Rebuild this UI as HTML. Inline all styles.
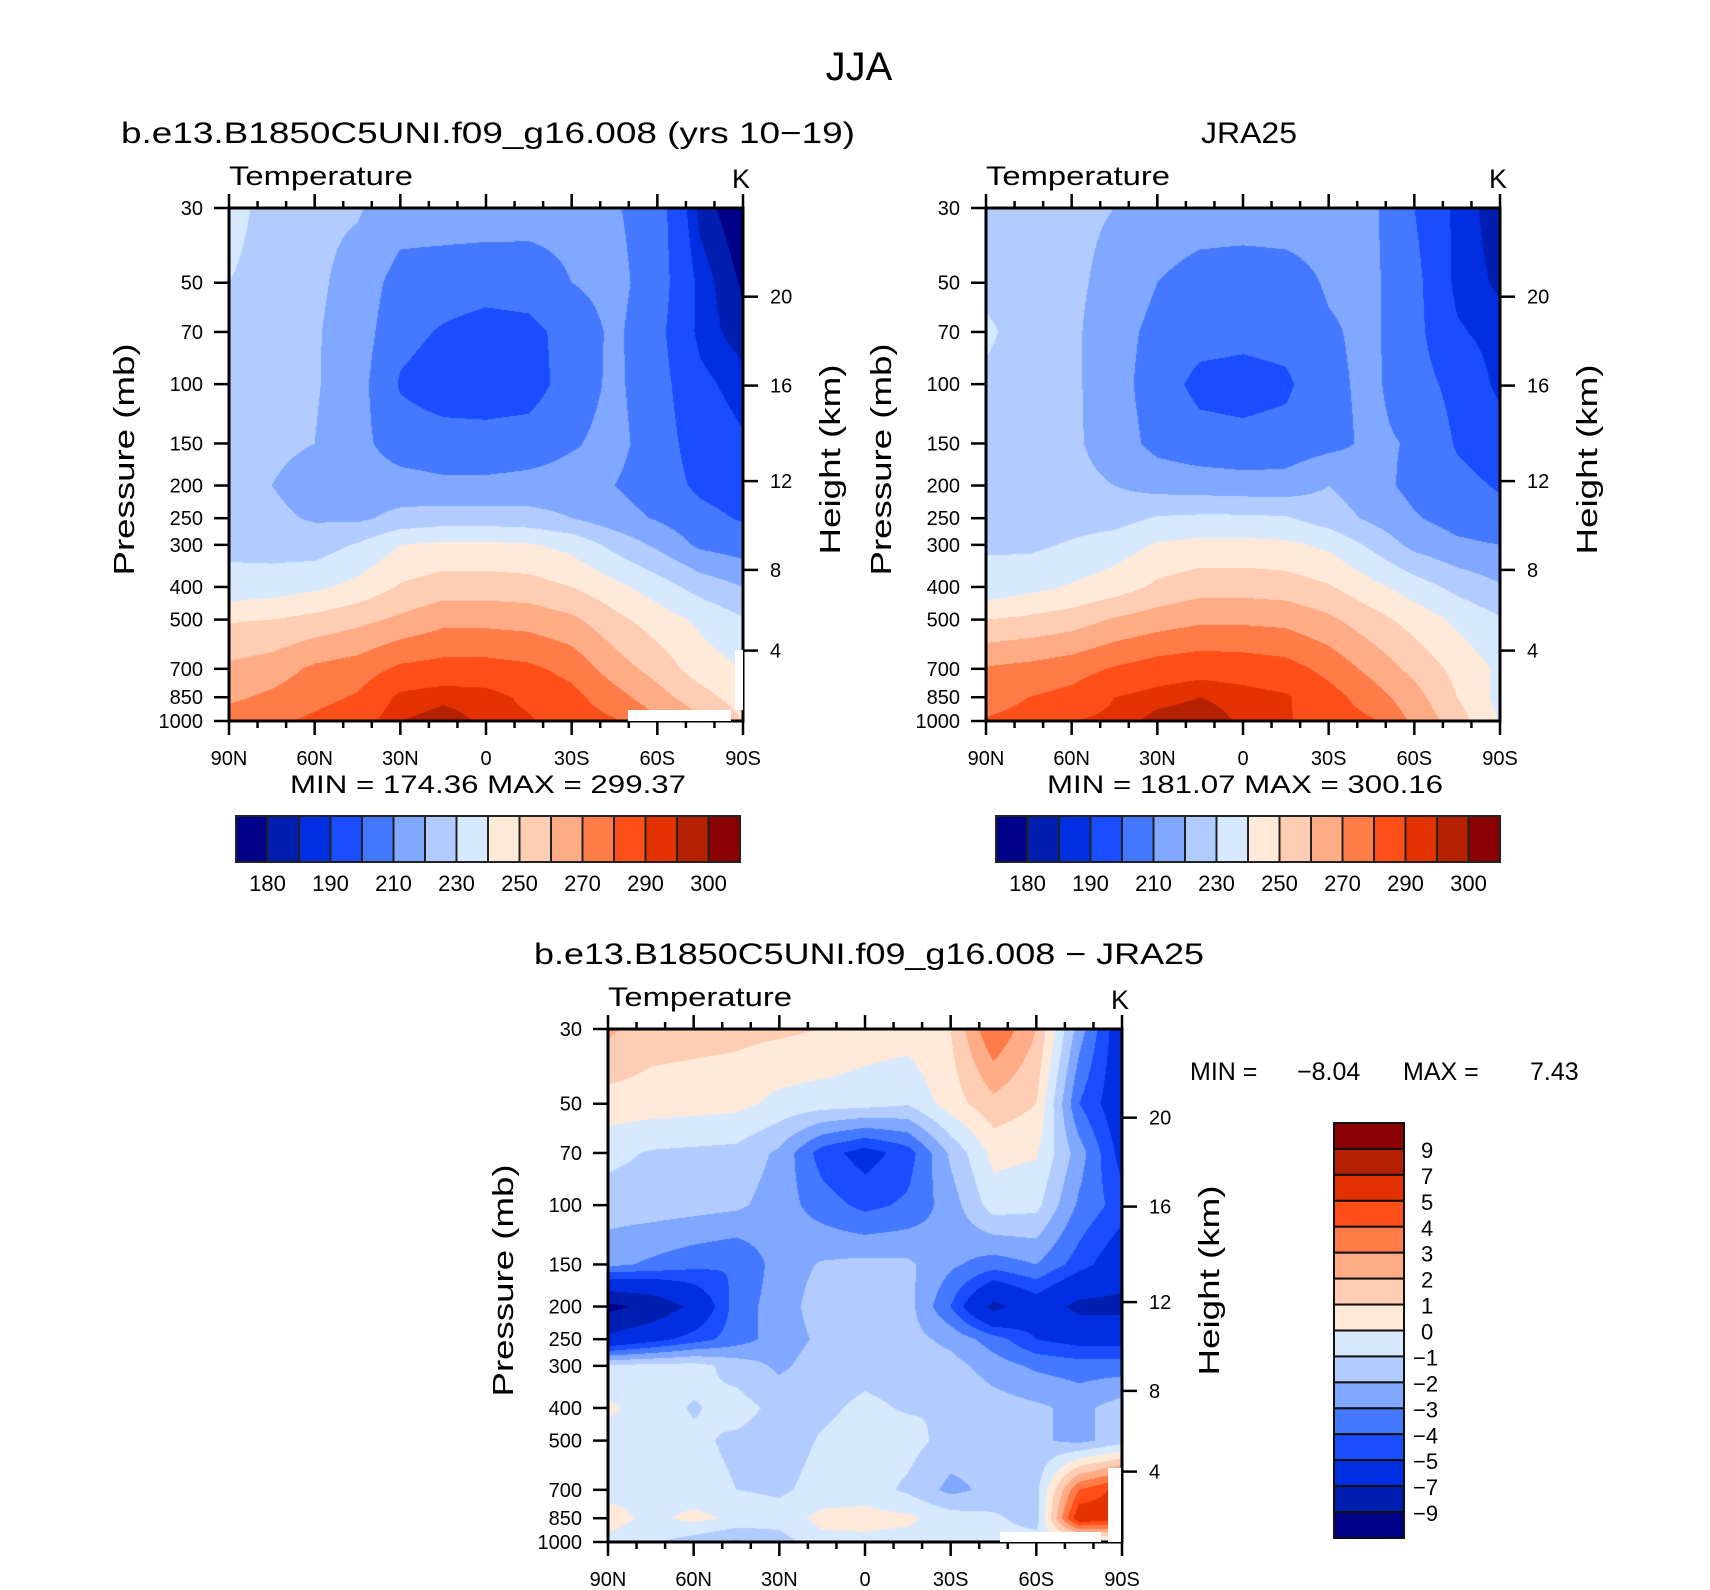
<!DOCTYPE html>
<html><head><meta charset="utf-8">
<style>
html,body{margin:0;padding:0;background:#fff;}
#wrap{position:relative;width:1710px;height:1590px;overflow:hidden;background:#fff;}
canvas{position:absolute;}
svg{position:absolute;left:0;top:0;}
text{font-family:"Liberation Sans","DejaVu Sans",sans-serif;fill:#000;}
</style></head>
<body>
<div id="wrap">
<canvas id="c1" width="514" height="513" style="left:229px;top:208px"></canvas>
<canvas id="c2" width="514" height="513" style="left:986px;top:208px"></canvas>
<canvas id="c3" width="514" height="513" style="left:608px;top:1029px"></canvas>
<svg id="s" width="1710" height="1590" xmlns="http://www.w3.org/2000/svg"></svg>
</div>
<script>
// ---- data ----
const lats = [90,75,60,45,30,15,0,-15,-30,-45,-60,-75,-90];
const pressures = [30,50,70,100,150,200,250,300,400,500,700,850,1000];
const pressureTicks = [30,50,70,100,150,200,250,300,400,500,700,850,1000];
const heightTickLabels = [20,16,12,8,4];
const heightTickPressures = [55,101,194,356,618];
const latTickValues = [90,60,30,0,-30,-60,-90];
const latTickLabels = ["90N","60N","30N","0","30S","60S","90S"];
const absLevels = [180,185,190,200,210,220,230,240,250,260,270,280,290,295,300];
const absLabels = ["180","190","210","230","250","270","290","300"];
const diffLevels = [-9,-7,-5,-4,-3,-2,-1,0,1,2,3,4,5,7,9];
const diffLabels = ["-9","-7","-5","-4","-3","-2","-1","0","1","2","3","4","5","7","9"];
const colors = ["#000088","#001eb0","#002ee0","#1a4dff","#4479ff","#80a8ff","#b3ccff","#d6e9ff","#ffeada","#ffcdb3","#ffab85","#ff7b47","#ff4f19","#e33200","#b52000","#8b0000"];

const modelT = [
[235,225,222,221,215,215,215,214,213,211,205,183,175],
[230,225,222,216,206,205,204,205,210,213,205,188,179],
[226,223,221,215,203,199,196,197,204,212,203,188,182],
[225,223,221,214,199,195,194,195,205,212,204,192,187],
[225,222,220,213,205,204,204,205,209,213,205,195,191],
[225,220,216,215,214,212,212,213,214,210,205,198,195],
[228,222,219,218,223,225,225,224,220,214,209,203,199],
[228,226,225,231,240,242,242,241,237,227,218,208,205],
[233,235,238,243,251,255,255,254,250,243,235,226,220],
[249,250,253,257,262,267,267,266,262,253,245,238,231],
[262,265,272,275,282,284,284,282,277,265,256,245,240],
[268,272,277,281,292,294,293,288,283,274,264,254,245],
[275,278,282,286,295,297,294,291,285,281,272,262,250]];

const jraT = [
[225,224,222,220,216,215,215,215,214,212,200,188,182],
[227,225,222,217,210,206,205,206,211,212,203,188,184],
[232,225,222,214,207,204,203,204,209,212,203,191,187],
[228,225,222,214,205,197,196,198,208,212,204,197,188],
[227,225,222,215,207,204,203,204,207,212,209,199,194],
[227,225,223,220,216,215,214,214,220,214,207,203,199],
[228,227,226,226,231,232,232,231,225,218,211,206,203],
[229,228,231,235,241,243,243,242,238,228,217,212,210],
[233,237,241,245,252,256,256,255,251,243,235,227,221],
[250,252,255,261,265,268,268,267,262,254,246,238,231],
[271,273,276,281,285,287,286,284,277,267,257,247,238],
[275,280,283,290,293,295,293,291,284,275,264,250,237],
[281,284,290,292,297,298,294,291,285,281,268,255,239]];

const diffT = [
[2.2,1.5,1.4,1.3,1.2,1.0,0.6,0.5,1.0,4.0,2.0,-2.5,-6],
[0.6,0.5,0.4,0.3,-0.3,-0.5,-0.6,-0.9,0.5,1.7,1.0,-4,-6],
[-0.7,-1.1,-1.2,-1.3,-2.2,-4.5,-5.5,-4.5,-1.8,0.3,0.1,-2.5,-5.5],
[-1.5,-1.5,-1.6,-1.8,-2.5,-3.5,-4.3,-3.8,-2.5,-0.5,-0.7,-3.2,-4.5],
[-2.7,-3.2,-3.7,-4.0,-2.5,-1.9,-1.7,-1.8,-2.8,-3.5,-3.0,-4.5,-6],
[-9.5,-8.5,-6.5,-3.5,-2.5,-1.5,-1.5,-1.6,-4,-7.5,-5.8,-7.5,-7.5],
[-6.5,-5.5,-4.5,-3.5,-2.5,-1.8,-1.5,-1.6,-2.3,-3.5,-5,-5.5,-5.5],
[-0.8,-0.7,-0.6,-1.4,-2.2,-1.5,-1.3,-1.4,-1.6,-2.5,-3.2,-3.5,-3.5],
[0.2,-0.5,-1.1,-0.6,-1.3,-1.2,-0.8,-1.1,-1.0,-1.5,-1.8,-2.3,-1.5],
[-0.4,-0.5,-0.8,-1.2,-1.5,-0.9,-0.6,-0.6,-1.4,-1.6,-1.8,-2.3,-1.5],
[-0.4,-0.4,-0.6,-1.0,-1.2,-0.6,-0.5,-1.2,-2.3,-1.7,-1.3,4,5.5],
[0.5,-0.3,0.3,-0.2,-0.5,0.3,0.4,0.2,-0.5,-0.8,-1.5,6,5.5],
[-0.3,-0.8,-1.5,-2.2,-1.5,-0.3,-0.3,-0.4,-0.3,-0.5,-0.5,-0.5,-0.5]];

// ---- axes helpers ----
const W = 514, H = 513;
function xLat(lat, x0){ return x0 + (90-lat)/180*W; }
function yP(p, y0){ return y0 + H*Math.log(p/30)/Math.log(1000/30); }

function band(v, levels){ let i=0; while(i<levels.length && v>=levels[i]) i++; return i; }

function drawField(id, field, levels){
  const cv = document.getElementById(id), ctx = cv.getContext('2d');
  const img = ctx.createImageData(W,H);
  const lp = pressures.map(p=>Math.log(p));
  const rgb = colors.map(c=>[parseInt(c.substr(1,2),16),parseInt(c.substr(3,2),16),parseInt(c.substr(5,2),16)]);
  for(let py=0; py<H; py++){
    const l = Math.log(30) + (py+0.5)/H*(Math.log(1000)-Math.log(30));
    let r=0; while(r<lp.length-2 && l>lp[r+1]) r++;
    const fy = Math.min(1,Math.max(0,(l-lp[r])/(lp[r+1]-lp[r])));
    for(let px=0; px<W; px++){
      const lat = 90 - (px+0.5)/W*180;
      const gx = (90-lat)/15; let c = Math.min(11, Math.floor(gx)); const fx = gx-c;
      const v = (field[r][c]*(1-fx)+field[r][c+1]*fx)*(1-fy) + (field[r+1][c]*(1-fx)+field[r+1][c+1]*fx)*fy;
      const k = rgb[band(v, levels)]; const o=(py*W+px)*4;
      img.data[o]=k[0]; img.data[o+1]=k[1]; img.data[o+2]=k[2]; img.data[o+3]=255;
    }
  }
  ctx.putImageData(img,0,0);
}
drawField('c1', modelT, absLevels);
drawField('c2', jraT, absLevels);
drawField('c3', diffT, diffLevels);

// ---- svg ----
const NS = "http://www.w3.org/2000/svg";
const svg = document.getElementById('s');
function el(tag, attrs, parent){
  const e = document.createElementNS(NS, tag);
  for(const k in attrs) e.setAttribute(k, attrs[k]);
  (parent||svg).appendChild(e); return e;
}
function txt(str, attrs, parent){ const t = el('text', attrs, parent); t.textContent = str; return t; }

let t;
t = txt("JJA", {x:859, y:80, 'font-size':40, 'text-anchor':'middle'});



function panel(name, x0, y0, title, titleX, titleLen, minmax){
  const g = el('g', {});
  
  
  if(title){
    const tt = txt(title, {x:titleX, y:y0-65, 'font-size':30, 'text-anchor':'middle', textLength:titleLen, lengthAdjust:'spacingAndGlyphs'}, g);
    
    
  }
  const lt = txt("Temperature", {x:x0, y:y0-23, 'font-size':27, textLength:184, lengthAdjust:'spacingAndGlyphs'}, g);
  
  
  const kt = txt("K", {x:x0+W-2, y:y0-20, 'font-size':27, 'text-anchor':'middle'}, g);
  
  
  for(let lat=90; lat>=-90; lat-=10){
    const x = xLat(lat, x0); const major = lat%30===0; const L = major?14:7;
    const a = el('line',{x1:x,x2:x,y1:y0,y2:y0-L,stroke:'#000','stroke-width':2.5}, g);
    
    
    const b = el('line',{x1:x,x2:x,y1:y0+H,y2:y0+H+L,stroke:'#000','stroke-width':2.5}, g);
    
    
  }
  latTickValues.forEach((lat,i)=>{
    const l = txt(latTickLabels[i], {x:xLat(lat,x0), y:y0+H+44, 'font-size':20, 'text-anchor':'middle'}, g);
    
    
  });
  pressureTicks.forEach(p=>{
    const y = yP(p,y0);
    const a = el('line',{x1:x0-15,x2:x0,y1:y,y2:y,stroke:'#000','stroke-width':2.5}, g);
    
    
    const l = txt(String(p), {x:x0-26, y:y+7, 'font-size':20, 'text-anchor':'end'}, g);
    
    
  });
  heightTickPressures.forEach((p,i)=>{
    const y = yP(p,y0);
    const a = el('line',{x1:x0+W,x2:x0+W+15,y1:y,y2:y,stroke:'#000','stroke-width':2.5}, g);
    
    
    const l = txt(String(heightTickLabels[i]), {x:x0+W+27, y:y+7, 'font-size':20}, g);
    
    
  });
  const f = el('rect',{x:x0,y:y0,width:W,height:H,fill:'none',stroke:'#000','stroke-width':3}, g);
  
  
  const py = txt("Pressure (mb)", {x:0,y:0,'font-size':29,'text-anchor':'middle',textLength:232,lengthAdjust:'spacingAndGlyphs',transform:`translate(${x0-95},${y0+H/2-5}) rotate(-90)`}, g);
  
  
  const hy = txt("Height (km)", {x:0,y:0,'font-size':29,'text-anchor':'middle',textLength:190,lengthAdjust:'spacingAndGlyphs',transform:`translate(${x0+W+97},${y0+H/2-5}) rotate(-90)`}, g);
  
  
  if(minmax){
    const m = txt(minmax, {x:x0+W/2+2, y:y0+H+72, 'font-size':25, 'text-anchor':'middle', textLength:396, lengthAdjust:'spacingAndGlyphs', 'xml:space':'preserve'}, g);
    
    
  }
  return g;
}
panel('model-panel', 229, 208, "b.e13.B1850C5UNI.f09_g16.008 (yrs 10\u221219)", 488, 734, "MIN = 174.36   MAX = 299.37");
panel('jra25-panel', 986, 208, "JRA25", 1249, 96, "MIN = 181.07   MAX = 300.16");
panel('difference-panel', 608, 1029, "b.e13.B1850C5UNI.f09_g16.008 \u2212 JRA25", 869, 670, null);

[[628,710,103,11],[735,650,8,60],[1000,1532,101,10],[1108,1468,13,74]].forEach(r=>{
  const m = el('rect',{x:r[0],y:r[1],width:r[2],height:r[3],fill:'#fff'});
  
  
});

function hbar(name, x0, y0){
  const g = el('g',{});
  
  
  const w = 504/colors.length;
  colors.forEach((c,i)=>{
    const r = el('rect',{x:x0+i*w,y:y0,width:w,height:46,fill:c,stroke:'#222','stroke-width':2}, g);
    
    
  });
  absLabels.forEach((lab,i)=>{
    const l = txt(lab,{x:x0+(2*i+1)*w, y:y0+75, 'font-size':22, 'text-anchor':'middle'}, g);
    
    
  });
}
hbar('model-colorbar', 236, 816);
hbar('jra25-colorbar', 996, 816);

(function(){
  const g = el('g',{});
  
  
  const x0=1334, y0=1123, h=(1538-1123)/colors.length;
  for(let i=0;i<colors.length;i++){
    const r = el('rect',{x:x0,y:y0+i*h,width:70,height:h,fill:colors[colors.length-1-i],stroke:'#111','stroke-width':2}, g);
    
    
  }
  for(let i=0;i<diffLabels.length;i++){
    const lab = diffLabels[diffLabels.length-1-i];
    const neg = lab[0]==='-';
    const l = txt(neg?'\u2212'+lab.slice(1):lab,{x:neg?1413:1421, y:y0+(i+1)*h+9, 'font-size':22}, g);
    
    
  }
})();

const mm = [["MIN =",1190],["\u22128.04",1297],["MAX =",1403],["7.43",1530]];
mm.forEach(m=>{
  const l = txt(m[0],{x:m[1], y:1080, 'font-size':25});
  
  
});
</script>
</body></html>
